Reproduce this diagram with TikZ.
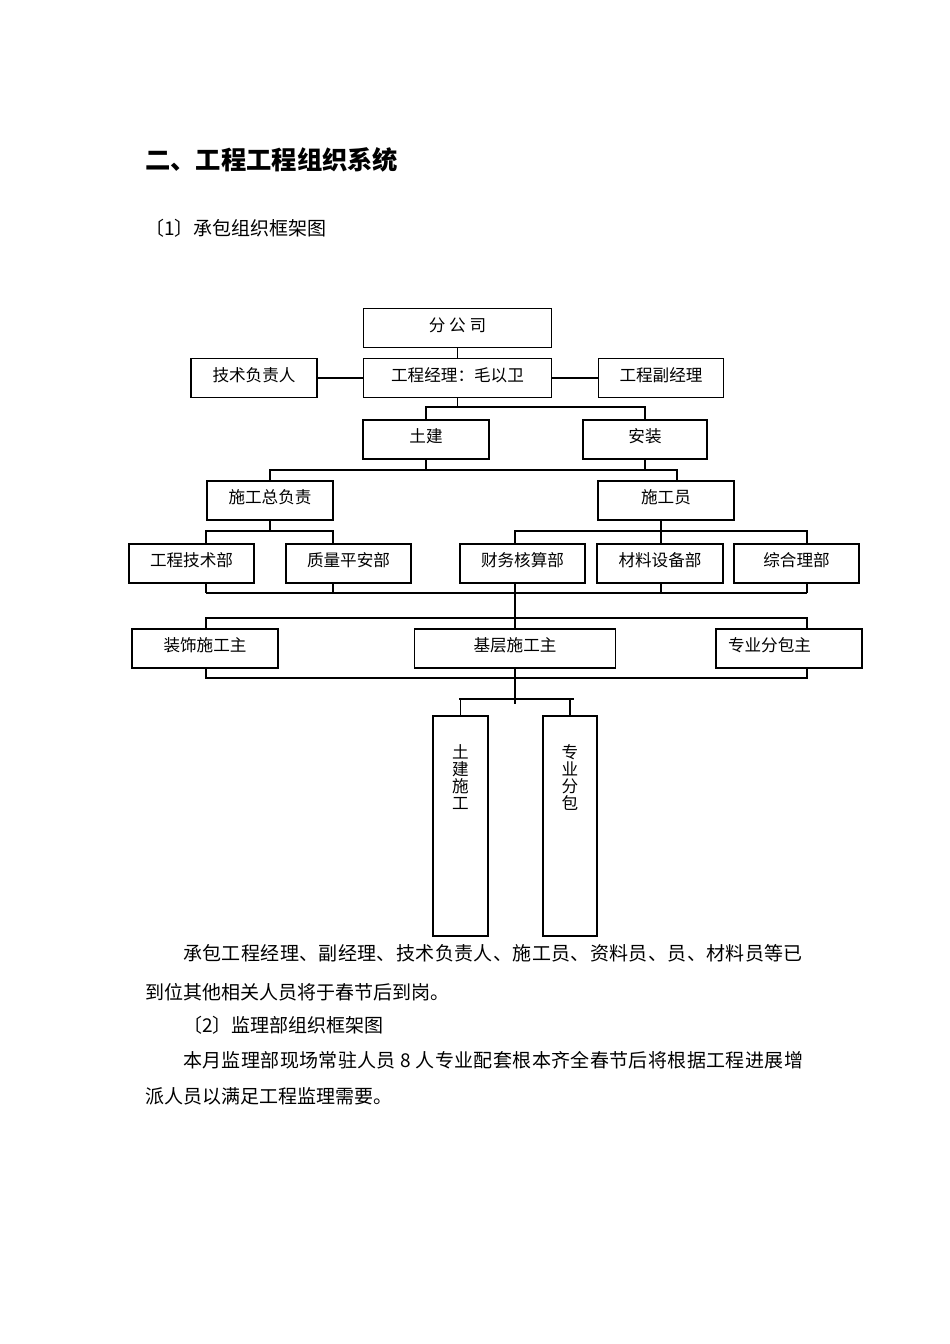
\documentclass[tikz,border=0pt]{standalone}
\usepackage{fontspec}
\setmainfont{Noto Sans CJK SC}
\usetikzlibrary{positioning}
\tikzset{
  box/.style={draw, line width=1.3pt, inner sep=0pt, minimum height=39pt, text height=14.6pt, text depth=8pt, font=\fontsize{16.6}{18}\selectfont},
  tall box/.style={draw, line width=1.3pt, inner sep=0pt, minimum width=55pt, minimum height=220pt},
  upright text/.style={anchor=north, align=center, inner sep=0pt, font=\fontsize{16.6}{17}\selectfont},
  link/.style={line width=1.2pt},
  body/.style={anchor=west, inner sep=0pt, font=\fontsize{19}{22}\selectfont},
  wide body/.style={body, font=\fontsize{19}{22}\selectfont\addfontfeature{LetterSpace=2.0}},
}

\begin{document}
\begin{tikzpicture}[x=1pt, y=-1pt]
  \useasboundingbox (0,0) rectangle (950,1344);

  % Heading
  \node[anchor=west, inner sep=0pt, font=\fontsize{25.3}{28}\selectfont\bfseries] (title) at (145,160) {二、工程工程组织系统};
  \node[body] (sub1) at (145,228) {〔1〕承包组织框架图};

  % Management
  \node[box, minimum width=188pt] (fgs) at (457.5,328) {分 公 司};
  \node[box, minimum width=188pt] (jl) at (457.5,378) {工程经理：毛以卫};
  \node[box, minimum width=126pt] (jsfz) at (254,378) {技术负责人};
  \node[box, minimum width=125pt] (fjl) at (661,378) {工程副经理};
  \node[box, minimum width=126pt] (tj) at (426,439.5) {土建};
  \node[box, minimum width=124pt] (az) at (645,439.5) {安装};
  \node[box, minimum width=126pt] (zfz) at (270,500.5) {施工总负责};
  \node[box, minimum width=136pt] (sgy) at (666,500.5) {施工员};

  % Departments
  \node[box, minimum width=125pt] (jsb) at (191.5,563.5) {工程技术部};
  \node[box, minimum width=125pt] (zlb) at (348.5,563.5) {质量平安部};
  \node[box, minimum width=125pt] (cwb) at (522.5,563.5) {财务核算部};
  \node[box, minimum width=126pt] (clb) at (660,563.5) {材料设备部};
  \node[box, minimum width=125pt] (zhb) at (796.5,563.5) {综合理部};

  % Sub-contractors
  \node[box, minimum width=146pt] (zs) at (205,648.5) {装饰施工主};
  \node[box, minimum width=201pt] (jc) at (515,648.5) {基层施工主};
  \node[box, minimum width=146pt, text width=122pt, inner xsep=12pt, align=left] (zy) at (789,648.5) {专业分包主};

  % Crews
  \node[tall box] (tjsg) at (460.5,826) {};
  \node[tall box, minimum width=54pt] (zyfb) at (570,826) {};
  \node[upright text] (tjsgt) at (460.5,744) {土\\建\\施\\工};
  \node[upright text] (zyfbt) at (570,744) {专\\业\\分\\包};

  % Bus levels and columns
  \coordinate (b1) at (0,407);
  \coordinate (b2) at (0,470);
  \coordinate (b3) at (0,531);
  \coordinate (b4) at (0,593);
  \coordinate (b5) at (0,618);
  \coordinate (b6) at (0,678);
  \coordinate (b7) at (0,699);
  \coordinate (b7l) at (459,699);
  \coordinate (b7r) at (574,699);
  \coordinate (spine) at (515,704);
  \coordinate (b2r) at (677,470);
  \foreach \n/\x in {1/206,2/333,3/515,4/661,5/807}
    \coordinate (c\n) at (\x,0);

  % Top links
  \draw[link] (fgs) -- (jl);
  \draw[link] (jsfz) -- (jl);
  \draw[link] (jl) -- (fjl);
  \draw[link] (jl.south) -- (jl.south |- b1);
  \draw[link] (tj.north) -- (tj.north |- b1) -- (az.north |- b1) -- (az.north);

  \draw[link] (tj.south) -- (tj.south |- b2);
  \draw[link] (az.south) -- (az.south |- b2);
  \draw[link] (zfz.north) -- (zfz.north |- b2) -- (b2r) -- (b2r |- sgy.north);

  % Department links
  \draw[link] (zfz.south) -- (zfz.south |- b3);
  \draw[link] (c1 |- jsb.north) -- (c1 |- b3) -- (c2 |- b3) -- (c2 |- zlb.north);
  \draw[link] (c4 |- sgy.south) -- (c4 |- clb.north);
  \draw[link] (c3 |- cwb.north) -- (c3 |- b3) -- (c5 |- b3) -- (c5 |- zhb.north);

  \draw[link] (c1 |- b4) -- (c5 |- b4);
  \foreach \n/\b in {1/jsb,2/zlb,3/cwb,4/clb,5/zhb}
    \draw[link] (c\n |- \b.south) -- (c\n |- b4);

  % Sub-contractor links
  \draw[link] (c3 |- b4) -- (jc.north);
  \draw[link] (c1 |- zs.north) -- (c1 |- b5) -- (c5 |- b5) -- (c5 |- zy.north);
  \draw[link] (c1 |- zs.south) -- (c1 |- b6) -- (c5 |- b6) -- (c5 |- zy.south);
  \draw[link] (jc.south) -- (spine);
  \draw[link] (b7l) -- (b7r);
  \draw[link] (tjsg.north) -- (tjsg.north |- b7);
  \draw[link] (zyfb.north) -- (zyfb.north |- b7);

  % Text below
  \node[wide body] (p1) at (183,953) {承包工程经理、副经理、技术负责人、施工员、资料员、员、材料员等已};
  \node[body] (p2) at (145,992) {到位其他相关人员将于春节后到岗。};
  \node[body] (p3) at (183,1025) {〔2〕监理部组织框架图};
  \node[wide body] (p4) at (183,1060) {本月监理部现场常驻人员 8 人专业配套根本齐全春节后将根据工程进展增};
  \node[body] (p5) at (145,1096) {派人员以满足工程监理需要。};
\end{tikzpicture}
\end{document}
